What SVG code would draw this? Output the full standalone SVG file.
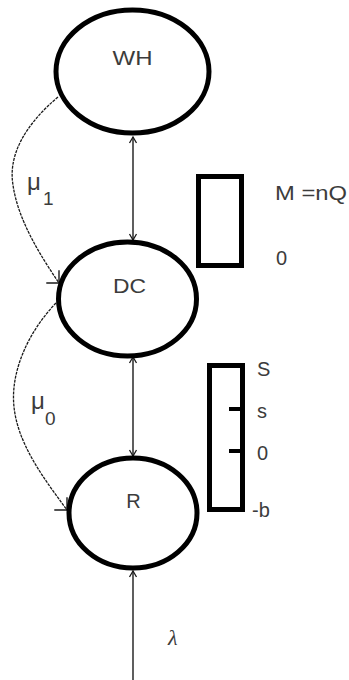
<svg xmlns="http://www.w3.org/2000/svg" width="349" height="680" viewBox="0 0 349 680">
<style>
.node{fill:#fff;stroke:#000;stroke-width:5}
.bar{fill:#fff;stroke:#000;stroke-width:5}
.tick{stroke:#000;stroke-width:4}
.lbl{font-family:"Liberation Sans",Arial,sans-serif;font-size:20px;fill:#3c3c3c}
.mu{font-size:24px}
.sub{font-size:19px}
.ln{fill:none;stroke:#1a1a1a;stroke-width:1.4}
.cv{fill:none;stroke:#1a1a1a;stroke-width:1.3;stroke-dasharray:3 1}
</style>
<defs>
<marker id="ah" markerUnits="userSpaceOnUse" viewBox="-8 -5 9 10" refX="0" refY="0" markerWidth="9" markerHeight="10" orient="auto-start-reverse">
<path d="M -6 -3.5 L 0 0 L -6 3.5" fill="none" stroke="#1a1a1a" stroke-width="1.3"/>
</marker>
<marker id="ahc" markerUnits="userSpaceOnUse" viewBox="-11 -11 12 22" refX="0" refY="0" markerWidth="12" markerHeight="22" orient="45">
<path d="M -9 -9 L 0 0 L -9 9" fill="none" stroke="#1a1a1a" stroke-width="1.4"/>
</marker>
</defs>
<rect width="349" height="680" fill="#fff"/>
<g id="connectors">
<line class="ln" x1="133" y1="137" x2="133" y2="240" marker-start="url(#ah)" marker-end="url(#ah)"/>
<line class="ln" x1="133" y1="357" x2="133" y2="456" marker-start="url(#ah)" marker-end="url(#ah)"/>
<line class="ln" x1="133" y1="680" x2="133" y2="571" marker-end="url(#ah)"/>
<path class="cv" d="M 58 97 C 25 125, 8 155, 13 185 C 18 220, 40 255, 59 283" marker-end="url(#ahc)"/>
<path class="cv" d="M 56 303 C 30 330, 10 370, 14 407 C 18 445, 45 480, 67 510" marker-end="url(#ahc)"/>
<text class="lbl mu" x="27" y="190">μ<tspan class="sub" x="43" y="205">1</tspan></text>
<text class="lbl mu" x="31" y="409">μ<tspan class="sub" x="45" y="425">0</tspan></text>
<text class="lbl" x="168" y="645" style="font-family:'Liberation Serif',serif;font-style:italic;font-size:22px">λ</text>
</g>
<g id="WH">
<ellipse class="node" cx="132.5" cy="71.5" rx="76.5" ry="61.5"/>
<text class="lbl" x="132.5" y="65" text-anchor="middle" textLength="40" lengthAdjust="spacingAndGlyphs">WH</text>
</g>
<g id="DC">
<ellipse class="node" cx="127.5" cy="299" rx="69" ry="57"/>
<text class="lbl" x="129.5" y="293" text-anchor="middle" textLength="33" lengthAdjust="spacingAndGlyphs">DC</text>
</g>
<g id="R">
<ellipse class="node" cx="133" cy="513" rx="64" ry="55"/>
<text class="lbl" x="133.5" y="508" text-anchor="middle">R</text>
</g>
<g id="dc-stock">
<rect class="bar" x="198.5" y="176.5" width="43" height="89"/>
<text class="lbl" x="275" y="200" textLength="72" lengthAdjust="spacingAndGlyphs">M =nQ</text>
<text class="lbl" x="276" y="265">0</text>
</g>
<g id="r-stock">
<rect class="bar" x="209.5" y="365.5" width="33" height="144"/>
<line class="tick" x1="229" y1="409" x2="243" y2="409"/>
<line class="tick" x1="229" y1="451" x2="243" y2="451"/>
<text class="lbl" x="257" y="376">S</text>
<text class="lbl" x="257" y="418">s</text>
<text class="lbl" x="257" y="460">0</text>
<text class="lbl" x="252" y="517">-b</text>
</g>
</svg>
